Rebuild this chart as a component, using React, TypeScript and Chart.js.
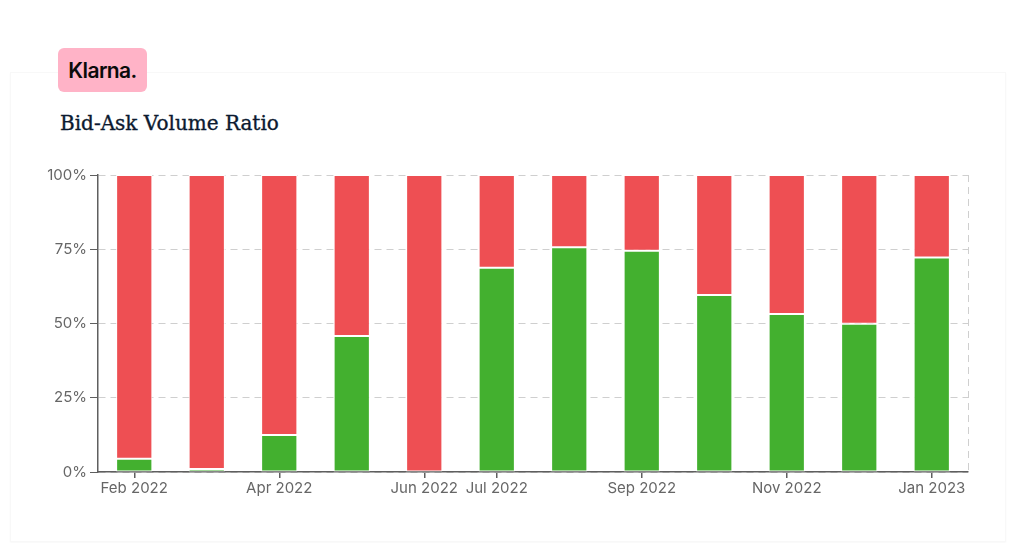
import React, { useEffect, useRef } from "react";
import { Chart, registerables } from "chart.js";

Chart.register(...registerables);

const months = [
  "Feb 2022", "Mar 2022", "Apr 2022", "May 2022", "Jun 2022", "Jul 2022",
  "Aug 2022", "Sep 2022", "Oct 2022", "Nov 2022", "Dec 2022", "Jan 2023",
];
const shownLabels = ["Feb 2022", "Apr 2022", "Jun 2022", "Jul 2022", "Sep 2022", "Nov 2022", "Jan 2023"];
const bidShare = [4.5, 1.0, 12.5, 45.8, 0, 68.8, 75.7, 74.5, 59.6, 53.2, 49.9, 72.2];
const askShare = [95.5, 99.0, 87.5, 54.2, 100, 31.2, 24.3, 25.5, 40.4, 46.8, 50.1, 27.8];
const yTicks = [0, 25, 50, 75, 100];

const GREEN = "#43b02f";
const RED = "#ee4f53";
const AXIS = "#5f5f5f";
const GRID = "#cfcfcf";

const rightDashPlugin = {
  id: "rightDash",
  beforeDatasetsDraw(chart: any) {
    const { ctx, chartArea } = chart;
    ctx.save();
    ctx.strokeStyle = GRID;
    ctx.lineWidth = 1;
    ctx.setLineDash([7, 5]);
    ctx.beginPath();
    ctx.moveTo(chartArea.right + 0.5, chartArea.top);
    ctx.lineTo(chartArea.right + 0.5, chartArea.bottom);
    ctx.stroke();
    ctx.restore();
  },
};

function BidAskChart() {
  const ref = useRef<HTMLCanvasElement | null>(null);
  useEffect(() => {
    if (!ref.current) return;
    const chart = new Chart(ref.current, {
      type: "bar",
      data: {
        labels: months,
        datasets: [
          {
            label: "Bid",
            data: bidShare,
            backgroundColor: GREEN,
            borderColor: "#ffffff",
            borderWidth: 1,
            borderSkipped: false,
            barPercentage: 0.5,
            categoryPercentage: 1,
          },
          {
            label: "Ask",
            data: askShare,
            backgroundColor: RED,
            borderColor: "#ffffff",
            borderWidth: 1,
            borderSkipped: false,
            barPercentage: 0.5,
            categoryPercentage: 1,
          },
        ],
      },
      plugins: [rightDashPlugin],
      options: {
        animation: false,
        responsive: false,
        maintainAspectRatio: false,
        layout: { padding: { left: 0, right: 56, top: 24, bottom: 0 } },
        plugins: {
          legend: { display: false },
          tooltip: { enabled: false },
        },
        scales: {
          x: {
            stacked: true,
            offset: true,
            grid: {
              display: true,
              drawOnChartArea: false,
              drawTicks: true,
              tickLength: 6,
              lineWidth: 1.5,
              offset: false,
              color: (c: any) => (shownLabels.includes(months[c.index]) ? AXIS : "rgba(0,0,0,0)"),
              tickColor: (c: any) => (shownLabels.includes(months[c.index]) ? AXIS : "rgba(0,0,0,0)"),
            },
            border: { display: true, color: AXIS, width: 1.5 },
            ticks: {
              autoSkip: false,
              maxRotation: 0,
              padding: 1,
              color: "#666666",
              font: { family: "Inter", size: 15 },
              callback: (_v: any, i: number) => (shownLabels.includes(months[i]) ? months[i] : ""),
            },
            afterFit: (s: any) => {
              s.height = 30;
            },
          },
          y: {
            stacked: true,
            min: 0,
            max: 100,
            afterBuildTicks: (s: any) => {
              s.ticks = yTicks.map((v) => ({ value: v }));
            },
            grid: {
              color: GRID,
              tickColor: AXIS,
              tickLength: 8,
              tickBorderDash: [],
              drawTicks: true,
            },
            border: { display: true, color: AXIS, width: 1.5, dash: [7, 5] },
            ticks: {
              padding: 3,
              color: "#666666",
              font: { family: "Inter", size: 15 },
              callback: (v: any) => v + "%",
            },
            afterFit: (s: any) => {
              s.width = 98;
            },
          },
        },
      },
    });
    return () => chart.destroy();
  }, []);
  return (
    <canvas
      ref={ref}
      width={1024}
      height={351}
      style={{ position: "absolute", left: 0, top: 151, width: 1024, height: 351 }}
    />
  );
}

export default function App() {
  return (
    <div
      style={{
        position: "fixed",
        left: 0,
        top: 0,
        width: 1024,
        height: 543,
        background: "#ffffff",
        overflow: "hidden",
      }}
    >
      <div
        style={{
          position: "absolute",
          left: 10,
          top: 72,
          width: 994,
          height: 468,
          border: "1px solid #f8f8f8",
          boxShadow: "0 1px 2px rgba(0,0,0,0.03)",
          background: "#ffffff",
        }}
      />
      <div
        style={{
          position: "absolute",
          left: 58,
          top: 48,
          width: 89,
          height: 44,
          background: "#ffb3c7",
          borderRadius: 6,
          display: "flex",
          alignItems: "center",
          justifyContent: "center",
          fontFamily: "Inter, 'Noto Sans', sans-serif",
          fontWeight: 600,
          fontSize: 21,
          color: "#0b0b0b",
          letterSpacing: -0.6,
        }}
      >
        Klarna.
      </div>
      <div
        style={{
          position: "absolute",
          left: 60,
          top: 111,
          fontFamily: "'DejaVu Serif', serif",
          fontSize: 20,
          fontWeight: 400,
          WebkitTextStroke: "0.35px #0c1a30",
          color: "#0c1a30",
          whiteSpace: "nowrap",
        }}
      >
        Bid-Ask Volume Ratio
      </div>
      <BidAskChart />
    </div>
  );
}
